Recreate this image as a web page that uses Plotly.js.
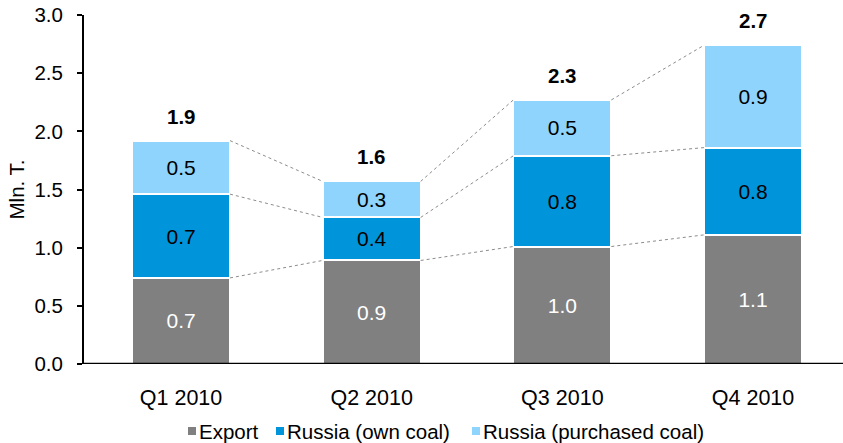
<!DOCTYPE html>
<html>
<head>
<meta charset="utf-8">
<script src="https://cdn.plot.ly/plotly-3.0.1.min.js"></script>
<style>html,body{margin:0;padding:0;background:#fff;}#chart{width:843px;height:443px;}</style>
</head>
<body>
<div id="chart"></div>
<script>
const categories = ["Q1 2010", "Q2 2010", "Q3 2010", "Q4 2010"];
const exportVals = [0.74, 0.89, 1.01, 1.11];
const ownCoal = [0.72, 0.37, 0.78, 0.75];
const purchasedCoal = [0.46, 0.31, 0.48, 0.88];
const seriesNames = ["Export", "Russia (own coal)", "Russia (purchased coal)"];
const seriesColors = ["#808080", "#0095DA", "#8FD4FD"];
const yTicks = [0, 0.5, 1.0, 1.5, 2.0, 2.5, 3.0];

const FONT = "'Liberation Sans', Arial, sans-serif";
const FS = 20.5;
const FS_WIDE = 21.5;
const BAR_W = 0.514;
const xs = categories.map((c, i) => i);

// plot-area geometry (pixels) used to place the hand-made legend
const W = 843, H = 443, ML = 84, MR = 0, MT = 15, MB = 79;
const PW = W - ML - MR, PH = H - MT - MB;
const px2x = p => (p - ML) / PW;
const px2y = p => (H - MB - p) / PH;

const level1 = exportVals;
const level2 = exportVals.map((v, i) => v + ownCoal[i]);
const level3 = level2.map((v, i) => v + purchasedCoal[i]);

function barTrace(name, vals, color, textColor) {
  return {
    type: "bar", x: xs, y: vals, name: name, width: BAR_W,
    marker: {color: color, line: {color: "#ffffff", width: 2}},
    text: vals.map(v => v.toFixed(1)),
    textposition: "inside", insidetextanchor: "middle", textangle: 0,
    textfont: {family: FONT, size: FS + 0.5, color: textColor},
    hoverinfo: "none", cliponaxis: false
  };
}

function connector(level) {
  const x = [], y = [];
  for (let i = 0; i < level.length - 1; i++) {
    x.push(xs[i] + BAR_W / 2, xs[i + 1] - BAR_W / 2, null);
    y.push(level[i], level[i + 1], null);
  }
  return {type: "scatter", mode: "lines", x: x, y: y, showlegend: false, hoverinfo: "none",
    line: {color: "#8c8c8c", width: 1, dash: "dot"}};
}

const data = [
  barTrace(seriesNames[0], exportVals, seriesColors[0], "#ffffff"),
  barTrace(seriesNames[1], ownCoal, seriesColors[1], "#000000"),
  barTrace(seriesNames[2], purchasedCoal, seriesColors[2], "#000000"),
  connector(level1), connector(level2), connector(level3)
];

const annotations = xs.map((x, i) => ({
  x: x, y: level3[i], xref: "x", yref: "y", yanchor: "bottom", yshift: 11,
  text: "<b>" + level3[i].toFixed(1) + "</b>", showarrow: false,
  font: {family: FONT, size: FS, color: "#000"}
}));

// legend (small square markers, tight spacing as in the reference)
const legMarkerLeft = [188, 276, 472];
const legTextLeft = [198, 286, 482];
const legCenterY = 431, legSq = 8;
const shapes = [{type: "line", xref: "paper", yref: "y", x0: 0, x1: 1, y0: 0, y1: 0,
  line: {color: "#000", width: 2.5}}];
seriesNames.forEach((n, i) => {
  shapes.push({type: "rect", xref: "paper", yref: "paper",
    x0: px2x(legMarkerLeft[i]), x1: px2x(legMarkerLeft[i] + legSq),
    y0: px2y(legCenterY + legSq / 2), y1: px2y(legCenterY - legSq / 2),
    fillcolor: seriesColors[i], line: {width: 0}});
  annotations.push({xref: "paper", yref: "paper", x: px2x(legTextLeft[i]), y: px2y(legCenterY),
    xanchor: "left", yanchor: "middle", text: n, showarrow: false, borderpad: 0,
    font: {family: FONT, size: FS, color: "#000"}});
});

const layout = {
  width: W, height: H,
  margin: {l: ML, r: MR, t: MT, b: MB},
  paper_bgcolor: "#fff", plot_bgcolor: "#fff",
  barmode: "stack",
  font: {family: FONT, size: FS, color: "#000"},
  xaxis: {
    range: [-0.509, 3.472], tickvals: xs, ticktext: categories,
    showgrid: false, zeroline: false, showline: false, ticks: "",
    ticklabelstandoff: 18, tickfont: {family: FONT, size: FS_WIDE}
  },
  yaxis: {
    range: [0, 3.0], tickvals: yTicks, ticktext: yTicks.map(v => v.toFixed(1)),
    showgrid: false, zeroline: false, showline: true, linecolor: "#000", linewidth: 2,
    ticks: "outside", ticklen: 5, tickwidth: 2, tickcolor: "#000",
    ticklabelstandoff: 10,
    tickfont: {family: FONT, size: FS},
    title: {text: "Mln. T.", font: {family: FONT, size: FS}, standoff: 4}
  },
  shapes: shapes,
  annotations: annotations,
  showlegend: false
};

Plotly.newPlot("chart", data, layout, {staticPlot: true, displayModeBar: false});
</script>
</body>
</html>
